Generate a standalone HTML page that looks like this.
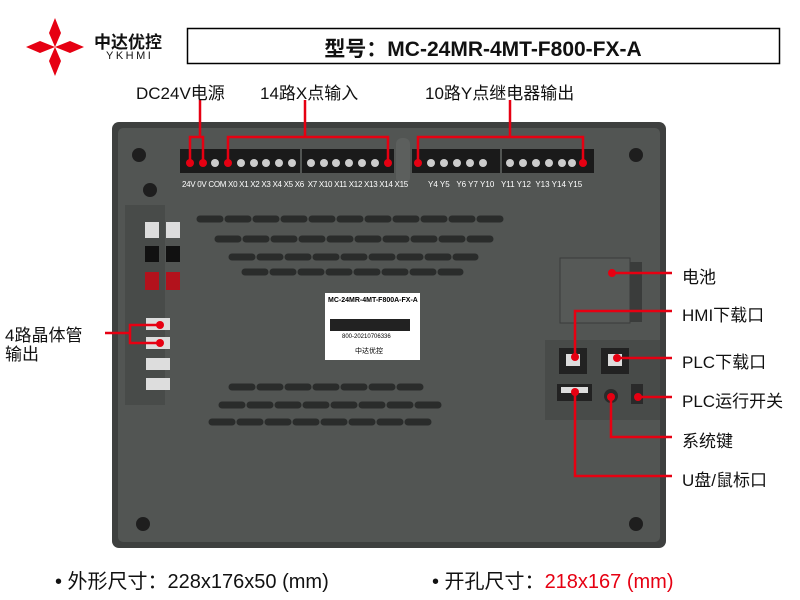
<!DOCTYPE html><html><head><meta charset="utf-8"><style>
body{margin:0;width:800px;height:600px;background:#fff;position:relative;overflow:hidden;font-family:"Liberation Sans","Noto Sans CJK SC",sans-serif}
.a{position:absolute}
.t{position:absolute;font-size:17px;color:#111;white-space:nowrap}
.blk{position:absolute;background:#1a1a1a;height:24px;top:149px}
</style></head><body>
<svg class="a" style="left:0;top:0" width="800" height="600">
<g fill="#e60012">
<polygon points="55,18 61,33 55,47 49,33"/><polygon points="55,47 61,61 55,76 49,61"/>
<polygon points="26,47 40,41 55,47 40,53"/><polygon points="55,47 70,41 84,47 70,53"/></g>
<rect x="187.5" y="28.5" width="592" height="35" fill="none" stroke="#000" stroke-width="1.5"/>
<rect x="112" y="122" width="554" height="426" rx="7" fill="#3e403f"/>
<rect x="118" y="128" width="542" height="414" rx="5" fill="#525553"/>
<rect x="125" y="205" width="40" height="200" fill="#484b49"/>
<rect x="545" y="340" width="115" height="80" fill="#484b49"/>
<rect x="560" y="258" width="70" height="65" fill="#565957" stroke="#3a3c3b"/>
<rect x="630" y="262" width="12" height="60" fill="#3a3c3b"/>
<g fill="#1e1e1e"><circle cx="139" cy="155" r="7"/><circle cx="150" cy="190" r="7"/><circle cx="636" cy="155" r="7"/><circle cx="636" cy="524" r="7"/><circle cx="143" cy="524" r="7"/></g>
<rect x="396" y="138" width="14" height="46" rx="6" fill="#5c5f5d"/>
<rect x="325" y="293" width="95" height="67" fill="#fff"/>
<rect x="330" y="319" width="80" height="12" fill="#222"/>
<rect x="559" y="348" width="28" height="26" fill="#222"/><rect x="566" y="354" width="14" height="12" fill="#ddd"/>
<rect x="601" y="348" width="28" height="26" fill="#222"/><rect x="608" y="354" width="14" height="12" fill="#ddd"/>
<rect x="557" y="384" width="35" height="17" fill="#222"/><rect x="561" y="387" width="27" height="6" fill="#ddd"/>
<circle cx="611" cy="396" r="7" fill="#2a2a2a"/><rect x="631" y="384" width="12" height="20" fill="#2a2a2a"/>
<g fill="#ddd"><rect x="145" y="222" width="14" height="16"/><rect x="166" y="222" width="14" height="16"/><rect x="146" y="318" width="24" height="12"/><rect x="146" y="337" width="24" height="12"/><rect x="146" y="358" width="24" height="12"/><rect x="146" y="378" width="24" height="12"/></g>
<g fill="#111"><rect x="145" y="246" width="14" height="16"/><rect x="166" y="246" width="14" height="16"/></g>
<g fill="#b3121c"><rect x="145" y="272" width="14" height="18"/><rect x="166" y="272" width="14" height="18"/></g>
<g stroke="#2a2c2b" stroke-width="7" stroke-linecap="round">
<path d="M200 219H500" stroke-dasharray="20 8"/><path d="M218 239H490" stroke-dasharray="20 8"/><path d="M232 257H475" stroke-dasharray="20 8"/><path d="M245 272H460" stroke-dasharray="20 8"/>
<path d="M232 387H420" stroke-dasharray="20 8"/><path d="M222 405H440" stroke-dasharray="20 8"/><path d="M212 422H430" stroke-dasharray="20 8"/>
</g>
</svg>
<div class="blk" style="left:180px;width:120px"></div><div class="blk" style="left:302px;width:92px"></div>
<div class="blk" style="left:412px;width:88px"></div><div class="blk" style="left:502px;width:92px"></div>
<svg class="a" style="left:0;top:0" width="800" height="600">
<g fill="#ccc">
<circle cx="215" cy="163" r="4"/>
<circle cx="241" cy="163" r="4"/><circle cx="254" cy="163" r="4"/><circle cx="266" cy="163" r="4"/><circle cx="279" cy="163" r="4"/><circle cx="292" cy="163" r="4"/>
<circle cx="311" cy="163" r="4"/><circle cx="324" cy="163" r="4"/><circle cx="336" cy="163" r="4"/><circle cx="349" cy="163" r="4"/><circle cx="362" cy="163" r="4"/><circle cx="375" cy="163" r="4"/>
<circle cx="431" cy="163" r="4"/><circle cx="444" cy="163" r="4"/><circle cx="457" cy="163" r="4"/><circle cx="470" cy="163" r="4"/><circle cx="483" cy="163" r="4"/>
<circle cx="510" cy="163" r="4"/><circle cx="523" cy="163" r="4"/><circle cx="536" cy="163" r="4"/><circle cx="549" cy="163" r="4"/><circle cx="562" cy="163" r="4"/><circle cx="572" cy="163" r="4"/></g>
<g stroke="#e60012" stroke-width="2.5" fill="none">
<path d="M200 100V137M190 160V137H203V160"/>
<path d="M305 100V137M228 160V137H388V160"/>
<path d="M510 100V137M418 160V137H583V160"/>
<path d="M612 273H672"/><path d="M575 357V311H672"/><path d="M617 358H672"/><path d="M638 397H672"/>
<path d="M611 397V437H672"/><path d="M575 392V476H672"/>
<path d="M105 333H130M160 325H130V343H160"/></g>
<g fill="#e60012"><circle cx="190" cy="163" r="4"/><circle cx="203" cy="163" r="4"/><circle cx="228" cy="163" r="4"/><circle cx="388" cy="163" r="4"/><circle cx="418" cy="163" r="4"/><circle cx="583" cy="163" r="4"/>
<circle cx="612" cy="273" r="4"/><circle cx="575" cy="357" r="4"/><circle cx="617" cy="358" r="4"/><circle cx="638" cy="397" r="4"/><circle cx="611" cy="397" r="4"/><circle cx="575" cy="392" r="4"/><circle cx="160" cy="325" r="4"/><circle cx="160" cy="343" r="4"/></g>
</svg>
<div class="a" style="left:182px;top:180px;font-size:8px;color:#fff;letter-spacing:-0.3px">24V 0V COM X0 X1 X2 X3 X4 X5 X6 &nbsp;X7 X10 X11 X12 X13 X14 X15</div>
<div class="a" style="left:428px;top:180px;font-size:8px;color:#fff">Y4 Y5 &nbsp;&nbsp;Y6 Y7 Y10 &nbsp;&nbsp;Y11 Y12 &nbsp;Y13 Y14 Y15</div>
<div class="a" style="left:328px;top:297px;font-size:7px;font-weight:bold">MC-24MR-4MT-F800A-FX-A</div>
<div class="a" style="left:342px;top:334px;font-size:6px">800-20210706336</div>
<div class="a" style="left:355px;top:346px;font-size:7px">中达优控</div>
<div class="t" style="left:94px;top:28px;font-size:17px;font-weight:bold">中达优控</div>
<div class="t" style="left:106px;top:50px;font-size:11px;letter-spacing:2.5px">YKHMI</div>
<div class="t" style="left:187px;top:33px;width:592px;text-align:center;font-size:21px;font-weight:bold">型号：MC-24MR-4MT-F800-FX-A</div>
<div class="t" style="left:136px;top:79px">DC24V电源</div>
<div class="t" style="left:260px;top:79px">14路X点输入</div>
<div class="t" style="left:425px;top:79px">10路Y点继电器输出</div>
<div class="t" style="left:682px;top:263px">电池</div>
<div class="t" style="left:682px;top:301px">HMI下载口</div>
<div class="t" style="left:682px;top:348px">PLC下载口</div>
<div class="t" style="left:682px;top:387px">PLC运行开关</div>
<div class="t" style="left:682px;top:427px">系统键</div>
<div class="t" style="left:682px;top:466px">U盘/鼠标口</div>
<div class="t" style="left:5px;top:326px;line-height:19px">4路晶体管<br>输出</div>
<div class="t" style="left:55px;top:565px;font-size:20px">• 外形尺寸：228x176x50 (mm)</div>
<div class="t" style="left:432px;top:565px;font-size:20px">• 开孔尺寸：<span style="color:#e60012">218x167 (mm)</span></div>
</body></html>
